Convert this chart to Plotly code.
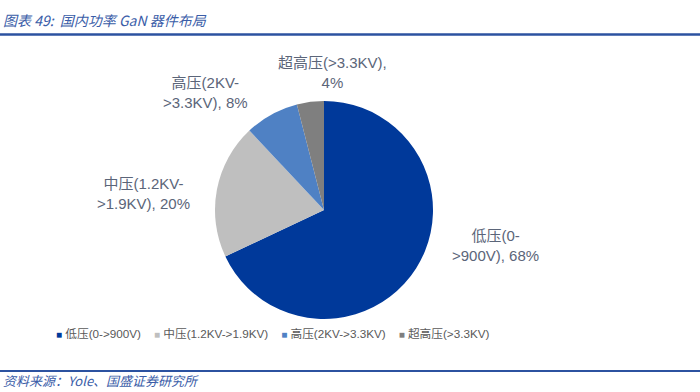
import plotly.graph_objects as go

categories = ["低压(0->900V)", "中压(1.2KV->1.9KV)", "高压(2KV->3.3KV)", "超高压(>3.3KV)"]
values = [68, 20, 8, 4]
label_texts = ["低压(0-<br>>900V), 68%", "中压(1.2KV-<br>>1.9KV), 20%",
               "高压(2KV-<br>>3.3KV), 8%", "超高压(>3.3KV),<br>4%"]
colors = ["#00399A", "#BFBFBF", "#4F81C4", "#7F7F7F"]

W, H = 700, 392
cx, cy, r = 324, 210, 109

fig = go.Figure()
fig.add_trace(go.Pie(
    labels=categories, values=values, sort=False, direction="clockwise", rotation=0,
    marker=dict(colors=colors, line=dict(color="white", width=0)),
    textinfo="none", hoverinfo="label+percent", showlegend=False,
    domain=dict(x=[(cx - r) / W, (cx + r) / W], y=[1 - (cy + r) / H, 1 - (cy - r) / H]),
))

label_font = dict(size=15, color="#5B6579", family="Liberation Sans, Noto Sans CJK SC")
label_pos = [(496, 245), (143, 193), (205, 92), (332, 72)]
for t, (x, y) in zip(label_texts, label_pos):
    fig.add_annotation(x=x / W, y=1 - y / H, xref="paper", yref="paper", text=t,
                       showarrow=False, font=label_font,
                       align="center", xanchor="center", yanchor="middle")

# legend drawn as one text line from categories/colors
gap = "\u00a0" * 4
legend_text = gap.join(
    f'<span style="color:{c};font-size:10px">■</span>\u00a0{cat}' for cat, c in zip(categories, colors)
)
fig.add_annotation(x=54 / W, y=1 - 333 / H, xref="paper", yref="paper", xanchor="left", yanchor="middle",
                   text=legend_text, showarrow=False,
                   font=dict(size=11.7, color="#595959", family="Liberation Sans, Noto Sans CJK SC"))

# title and source
fig.add_annotation(x=1 / W, y=1 - 20 / H, xref="paper", yref="paper", xanchor="left", yanchor="middle",
                   text="<i>图表 49:  国内功率 GaN 器件布局</i>", showarrow=False,
                   font=dict(size=14, color="#3A5DA8", family="Noto Sans CJK SC"))
fig.add_annotation(x=1 / W, y=1 - 380 / H, xref="paper", yref="paper", xanchor="left", yanchor="middle",
                   text="<i>资料来源：Yole、国盛证券研究所</i>", showarrow=False,
                   font=dict(size=13, color="#3A5DA8", family="Noto Sans CJK SC"))
fig.add_shape(type="line", xref="paper", yref="paper", x0=0, x1=1, y0=1 - 34.5 / H, y1=1 - 34.5 / H,
              line=dict(color="#2C52A0", width=2.5))
fig.add_shape(type="line", xref="paper", yref="paper", x0=0, x1=1, y0=1 - 371 / H, y1=1 - 371 / H,
              line=dict(color="#2C52A0", width=2))

fig.update_layout(
    width=W, height=H, margin=dict(l=0, r=0, t=0, b=0),
    paper_bgcolor="white", plot_bgcolor="white",
    showlegend=False,
)
fig.write_html("out.html", config={"displayModeBar": False},
               post_script="document.body.style.margin='0';document.body.style.overflow='hidden';")
